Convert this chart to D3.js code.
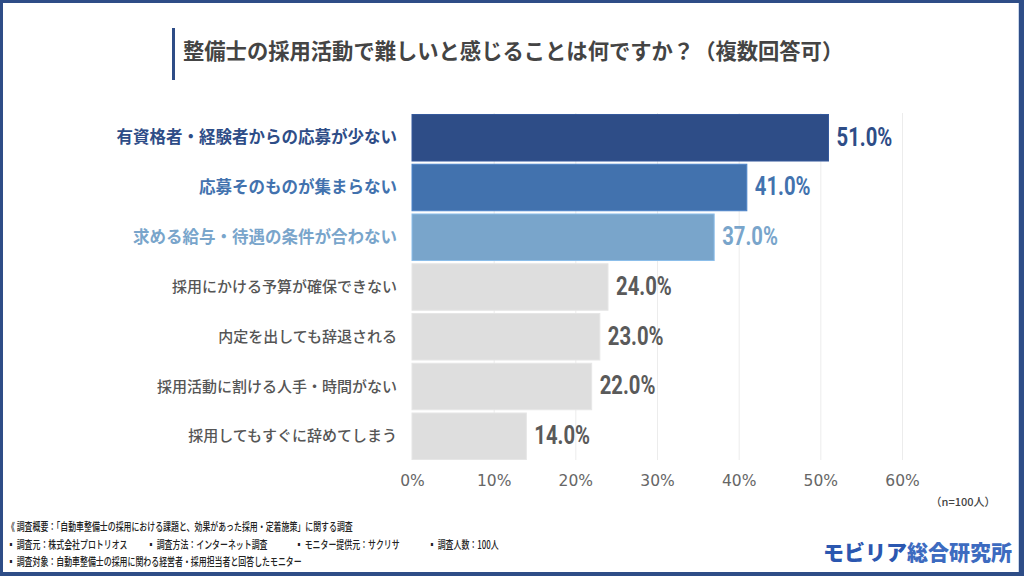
<!DOCTYPE html>
<html><head><meta charset="utf-8">
<script src="https://cdn.jsdelivr.net/npm/d3@7"></script>
<style>
html,body{margin:0;padding:0;background:#fff;}
svg{display:block;}
</style></head>
<body><svg id="c" width="1024" height="576"></svg>
<script>
const categories = [
  "有資格者・経験者からの応募が少ない",
  "応募そのものが集まらない",
  "求める給与・待遇の条件が合わない",
  "採用にかける予算が確保できない",
  "内定を出しても辞退される",
  "採用活動に割ける人手・時間がない",
  "採用してもすぐに辞めてしまう"
];
const values = [51.0, 41.0, 37.0, 24.0, 23.0, 22.0, 14.0];
const barColors = ["#2e4d87", "#4272ae", "#79a5cb", "#dedede", "#dedede", "#dedede", "#dedede"];
const textColors = ["#2e4d87", "#4272ae", "#79a5cb", "#555555", "#555555", "#555555", "#555555"];
const tickValues = [0, 10, 20, 30, 40, 50, 60];
const title = "整備士の採用活動で難しいと感じることは何ですか？（複数回答可）";
const footLine1 = "《 調査概要：「自動車整備士の採用における課題と、効果があった採用・定着施策」に関する調査";
const footLine2 = ["▪ 調査元：株式会社プロトリオス", "▪ 調査方法：インターネット調査", "▪ モニター提供元：サクリサ", "▪ 調査人数：100人"];
const footLine3 = "▪ 調査対象：自動車整備士の採用に関わる経営者・採用担当者と回答したモニター";

const svg = d3.select("#c");
const JP = "'Noto Sans CJK JP','Noto Sans',sans-serif";

// frame
svg.append("rect").attr("x",0).attr("y",0).attr("width",1024).attr("height",576).attr("fill","#2e4d87");
svg.append("rect").attr("x",3).attr("y",3).attr("width",1015).attr("height",569).attr("fill","#fff");
svg.append("line").attr("x1",1018.5).attr("x2",1018.5).attr("y1",3).attr("y2",572).attr("stroke","#c9d6ea").attr("stroke-width",1);

// title
svg.append("rect").attr("x",172).attr("y",28).attr("width",3).attr("height",52).attr("fill","#2e4d87");
svg.append("text").attr("x",183).attr("y",53).attr("dominant-baseline","middle")
  .attr("font-family",JP).attr("font-weight",700).attr("font-size",21.3).attr("fill","#444")
  .text(title);

const x = d3.scaleLinear().domain([0,60]).range([412, 902]);
const y = d3.scaleBand().domain(categories).range([113, 461]).paddingInner(0.065).paddingOuter(0.03);

// gridlines
svg.append("g").selectAll("line").data(tickValues.slice(1)).join("line")
  .attr("x1",d=>x(d)+0.5).attr("x2",d=>x(d)+0.5).attr("y1",113).attr("y2",460)
  .attr("stroke","#ececec").attr("stroke-width",1);

// axis
const ax = svg.append("g").attr("transform","translate(0,461)")
  .call(d3.axisBottom(x).tickValues(tickValues).tickFormat(d=>d+"%").tickSize(0).tickPadding(14));
ax.select(".domain").remove();
ax.selectAll("text").attr("font-family","'DejaVu Sans',sans-serif").attr("font-size",15.5).attr("fill","#666");

// bars
svg.append("g").selectAll("rect").data(values).join("rect")
  .attr("x",x(0)).attr("y",(d,i)=>y(categories[i]))
  .attr("width",d=>x(d)-x(0)).attr("height",y.bandwidth())
  .attr("fill",(d,i)=>barColors[i])
  .attr("stroke",(d,i)=>i<3? d3.color(barColors[i]).brighter(0.4):"#e6e6e6").attr("stroke-width",1);

// category labels
svg.append("g").selectAll("text").data(categories).join("text")
  .attr("x",397).attr("y",d=>y(d)+y.bandwidth()/2+1)
  .attr("text-anchor","end").attr("dominant-baseline","middle")
  .attr("font-family",JP)
  .attr("font-weight",(d,i)=>i<3?700:500)
  .attr("font-size",(d,i)=>i<3?16.5:15)
  .attr("fill",(d,i)=>textColors[i])
  .text(d=>d);

// value labels (condensed look)
svg.append("g").selectAll("text").data(values).join("text")
  .attr("transform",(d,i)=>`translate(${x(d)+8},${y(categories[i])+y.bandwidth()/2+1}) scale(0.78,1)`)
  .attr("dominant-baseline","middle")
  .attr("font-family","Roboto,'DejaVu Sans',sans-serif").attr("font-weight",700).attr("font-size",26)
  .attr("fill",(d,i)=>i<3?textColors[i]:"#5a5a5a")
  .text(d=>d.toFixed(1)+"%");

// n note
svg.append("text").attr("x",963).attr("y",503).attr("text-anchor","middle").attr("dominant-baseline","middle")
  .attr("font-family",JP).attr("font-size",11).attr("font-weight",500).attr("fill","#444").text("（n=100人）");

// footer
const foot = svg.append("g").attr("font-family",JP).attr("font-size",11).attr("font-weight",500).attr("fill","#222");
function ft(xp, yp, t){
  foot.append("text").attr("transform",`translate(${xp},${yp}) scale(0.72,1)`).attr("dominant-baseline","middle").text(t);
}
ft(7,528,footLine1);
const f2x = [7,147,295,428];
footLine2.forEach((t,i)=>ft(f2x[i],546,t));
ft(7,563,footLine3);

// logo
const logo = svg.append("text").attr("x",1012).attr("y",554).attr("text-anchor","end").attr("dominant-baseline","middle")
  .attr("font-family",JP).attr("font-weight",900).attr("font-size",21);
logo.append("tspan").attr("fill","#2b57b0").text("モビリア");
logo.append("tspan").attr("fill","#3d6bc0").text("総合研究所");
</script></body></html>
